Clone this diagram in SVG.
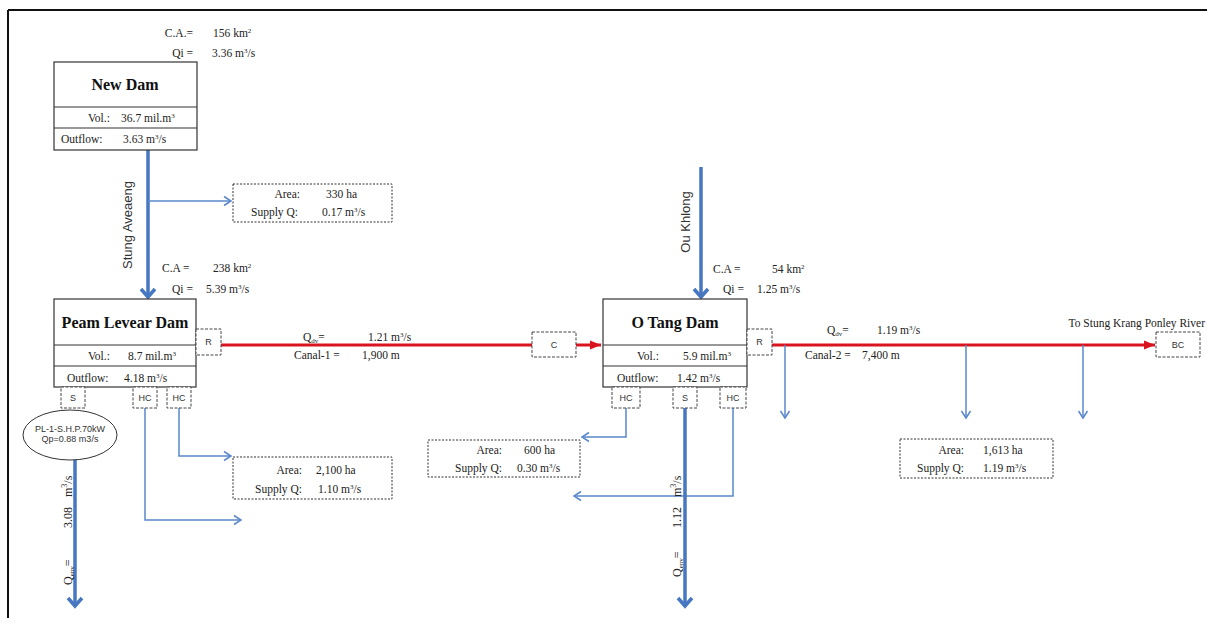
<svg xmlns="http://www.w3.org/2000/svg" width="1207" height="618" viewBox="0 0 1207 618">
<style>
.t{font-family:"Liberation Serif","Times New Roman",serif;font-size:11.5px;fill:#222}
.ttl{font-family:"Liberation Serif","Times New Roman",serif;font-size:16px;font-weight:bold;fill:#111}
.lb{font-family:"Liberation Sans",Arial,sans-serif;font-size:9px;fill:#333}
.rv{font-family:"Liberation Sans",Arial,sans-serif;font-size:13px;fill:#333}
.qe{font-family:"Liberation Serif","Times New Roman",serif;font-size:12px;fill:#222}
.box{fill:#fff;stroke:#333;stroke-width:1.2}
.dot{fill:#fff;stroke:#333;stroke-width:1;stroke-dasharray:2 1.5}
.dash{fill:#fff;stroke:#444;stroke-width:1;stroke-dasharray:3 1.5}
.thick{fill:none;stroke:#4677c0;stroke-width:3.5}
.thin{fill:none;stroke:#5a88cc;stroke-width:1.5}
.red{fill:none;stroke:#d9141e;stroke-width:3}
</style>
<defs>
<marker id="ta" markerUnits="userSpaceOnUse" viewBox="0 0 20 20" markerWidth="20" markerHeight="20" refX="10" refY="10" orient="auto"><path d="M2,3 L10,10 L2,17" fill="none" stroke="#4677c0" stroke-width="3.5"/></marker>
<marker id="na" markerUnits="userSpaceOnUse" viewBox="0 0 12 12" markerWidth="12" markerHeight="12" refX="8" refY="6" orient="auto"><path d="M1,1.5 L8,6 L1,10.5" fill="none" stroke="#5a88cc" stroke-width="1.5"/></marker>
<marker id="ra" markerUnits="userSpaceOnUse" viewBox="0 0 12 10" markerWidth="12" markerHeight="10" refX="11" refY="5" orient="auto"><path d="M0,0.5 L11,5 L0,9.5 z" fill="#d9141e"/></marker>
</defs>
<rect width="1207" height="618" fill="#fff"/>
<g id="frame"><path d="M8,10 H1207 M8,10 V618" fill="none" stroke="#111" stroke-width="2"/></g>

<g id="connectors">
<path class="thick" d="M148,150 V297" marker-end="url(#ta)"/>
<path class="thin" d="M148,201 H231" marker-end="url(#na)"/>
<path class="red" d="M221,345 H532"/>
<path class="red" d="M576,345 H601" marker-end="url(#ra)"/>
<path class="thick" d="M75,460 V606" marker-end="url(#ta)"/>
<path class="thin" d="M145,408 V520 H241" marker-end="url(#na)"/>
<path class="thin" d="M179,408 V456 H231" marker-end="url(#na)"/>
<path class="thick" d="M701,167 V297" marker-end="url(#ta)"/>
<path class="red" d="M772,345 H1155" marker-end="url(#ra)"/>
<path class="thin" d="M785,345 V418" marker-end="url(#na)"/>
<path class="thin" d="M966,345 V418" marker-end="url(#na)"/>
<path class="thin" d="M1083,345 V418" marker-end="url(#na)"/>
<path class="thin" d="M626,408 V437 H582" marker-end="url(#na)"/>
<path class="thin" d="M733,408 V496 H574" marker-end="url(#na)"/>
<path class="thick" d="M685,408 V606" marker-end="url(#ta)"/>
</g>

<g id="new-dam">
<text class="t" x="193" y="37" text-anchor="end">C.A.=</text>
<text class="t" x="213" y="37">156 km<tspan font-size="7" dy="-4">2</tspan></text>
<text class="t" x="193" y="57" text-anchor="end">Qi =</text>
<text class="t" x="212" y="57">3.36 m<tspan font-size="7" dy="-4">3</tspan><tspan dy="4">/s</tspan></text>
<rect class="box" x="54" y="62" width="143" height="88"/>
<path d="M54,107 H197 M54,128 H197" stroke="#333" stroke-width="1.2"/>
<text class="ttl" x="125" y="90" text-anchor="middle">New Dam</text>
<text class="t" x="88" y="122">Vol.:</text>
<text class="t" x="121" y="122">36.7 mil.m<tspan font-size="7" dy="-4">3</tspan></text>
<text class="t" x="61" y="143">Outflow:</text>
<text class="t" x="123" y="143">3.63 m<tspan font-size="7" dy="-4">3</tspan><tspan dy="4">/s</tspan></text>
</g>

<g id="stung-aveaeng"><text class="rv" transform="translate(132,225) rotate(-90)" text-anchor="middle">Stung Aveaeng</text></g>

<g id="supply-330">
<rect class="dot" x="233" y="184" width="159" height="38"/>
<text class="t" x="300" y="198" text-anchor="end">Area:</text>
<text class="t" x="326" y="198">330 ha</text>
<text class="t" x="298" y="216" text-anchor="end">Supply Q:</text>
<text class="t" x="322" y="216">0.17 m<tspan font-size="7" dy="-4">3</tspan><tspan dy="4">/s</tspan></text>
</g>

<g id="peam-levear-dam">
<text class="t" x="162" y="272">C.A =</text>
<text class="t" x="213" y="272">238 km<tspan font-size="7" dy="-4">2</tspan></text>
<text class="t" x="172" y="293">Qi =</text>
<text class="t" x="206" y="293">5.39  m<tspan font-size="7" dy="-4">3</tspan><tspan dy="4">/s</tspan></text>
<rect class="box" x="54" y="299" width="142" height="88"/>
<path d="M54,345 H196 M54,366 H196" stroke="#333" stroke-width="1.2"/>
<text class="ttl" x="125" y="328" text-anchor="middle">Peam Levear Dam</text>
<text class="t" x="88" y="360">Vol.:</text>
<text class="t" x="128" y="360">8.7 mil.m<tspan font-size="7" dy="-4">3</tspan></text>
<text class="t" x="67" y="382">Outflow:</text>
<text class="t" x="124" y="382">4.18 m<tspan font-size="7" dy="-4">3</tspan><tspan dy="4">/s</tspan></text>
<rect class="dash" x="196" y="329" width="25" height="26"/>
<text class="lb" x="208.5" y="345" text-anchor="middle">R</text>
<rect class="dash" x="61" y="387" width="24" height="21"/>
<text class="lb" x="73" y="401" text-anchor="middle">S</text>
<rect class="dash" x="133" y="387" width="24" height="21"/>
<text class="lb" x="145" y="401" text-anchor="middle">HC</text>
<rect class="dash" x="167" y="387" width="24" height="21"/>
<text class="lb" x="179" y="401" text-anchor="middle">HC</text>
</g>

<g id="shp">
<ellipse cx="70" cy="435" rx="47" ry="25" fill="#fff" stroke="#333" stroke-width="1"/>
<text class="lb" x="70" y="432" text-anchor="middle" font-size="7">PL-1-S.H.P.70kW</text>
<text class="lb" x="70" y="442" text-anchor="middle" font-size="7">Qp=0.88 m3/s</text>
</g>

<g id="qenv-1"><text class="qe" transform="translate(72,585) rotate(-90)">Q<tspan font-size="7" dy="2">env</tspan><tspan dy="-2">=</tspan><tspan x="57">3.08</tspan><tspan x="88">m</tspan><tspan font-size="8" dy="-5">3</tspan><tspan dy="5">/s</tspan></text></g>

<g id="supply-2100">
<rect class="dot" x="233" y="457" width="159" height="42"/>
<text class="t" x="302" y="474" text-anchor="end">Area:</text>
<text class="t" x="316" y="474">2,100 ha</text>
<text class="t" x="302" y="493" text-anchor="end">Supply Q:</text>
<text class="t" x="318" y="493">1.10  m<tspan font-size="7" dy="-4">3</tspan><tspan dy="4">/s</tspan></text>
</g>

<g id="canal-1">
<text class="t" x="303" y="341">Q<tspan font-size="7" dy="2">dv</tspan><tspan dy="-2">=</tspan></text>
<text class="t" x="368" y="341">1.21 m<tspan font-size="7" dy="-4">3</tspan><tspan dy="4">/s</tspan></text>
<text class="t" x="294" y="359">Canal-1 =</text>
<text class="t" x="362" y="359">1,900 m</text>
<rect class="dash" x="532" y="332" width="44" height="25"/>
<text class="lb" x="554" y="348" text-anchor="middle">C</text>
</g>

<g id="ou-khlong"><text class="rv" transform="translate(690,222) rotate(-90)" text-anchor="middle">Ou Khlong</text></g>

<g id="o-tang-dam">
<text class="t" x="713" y="273">C.A =</text>
<text class="t" x="772" y="273">54 km<tspan font-size="7" dy="-4">2</tspan></text>
<text class="t" x="723" y="293">Qi =</text>
<text class="t" x="757" y="293">1.25  m<tspan font-size="7" dy="-4">3</tspan><tspan dy="4">/s</tspan></text>
<rect class="box" x="603" y="299" width="144" height="88"/>
<path d="M603,345 H747 M603,366 H747" stroke="#333" stroke-width="1.2"/>
<text class="ttl" x="675" y="328" text-anchor="middle">O Tang Dam</text>
<text class="t" x="637" y="360">Vol.:</text>
<text class="t" x="683" y="360">5.9 mil.m<tspan font-size="7" dy="-4">3</tspan></text>
<text class="t" x="617" y="382">Outflow:</text>
<text class="t" x="677" y="382">1.42 m<tspan font-size="7" dy="-4">3</tspan><tspan dy="4">/s</tspan></text>
<rect class="dash" x="747" y="329" width="25" height="26"/>
<text class="lb" x="759.5" y="345" text-anchor="middle">R</text>
<rect class="dash" x="612" y="387" width="28" height="21"/>
<text class="lb" x="626" y="401" text-anchor="middle">HC</text>
<rect class="dash" x="673" y="387" width="24" height="21"/>
<text class="lb" x="685" y="401" text-anchor="middle">S</text>
<rect class="dash" x="720" y="387" width="26" height="21"/>
<text class="lb" x="733" y="401" text-anchor="middle">HC</text>
</g>

<g id="supply-600">
<rect class="dot" x="428" y="440" width="152" height="37"/>
<text class="t" x="502" y="454" text-anchor="end">Area:</text>
<text class="t" x="524" y="454">600 ha</text>
<text class="t" x="502" y="472" text-anchor="end">Supply Q:</text>
<text class="t" x="517" y="472">0.30  m<tspan font-size="7" dy="-4">3</tspan><tspan dy="4">/s</tspan></text>
</g>

<g id="qenv-2"><text class="qe" transform="translate(681,577) rotate(-90)">Q<tspan font-size="7" dy="2">env</tspan><tspan dy="-2">=</tspan><tspan x="49">1.12</tspan><tspan x="80">m</tspan><tspan font-size="8" dy="-5">3</tspan><tspan dy="5">/s</tspan></text></g>

<g id="canal-2">
<text class="t" x="827" y="334">Q<tspan font-size="7" dy="2">dv</tspan><tspan dy="-2">=</tspan></text>
<text class="t" x="877" y="334">1.19 m<tspan font-size="7" dy="-4">3</tspan><tspan dy="4">/s</tspan></text>
<text class="t" x="805" y="359">Canal-2 =</text>
<text class="t" x="862" y="359">7,400 m</text>
</g>

<g id="bc">
<text class="t" x="1205" y="327" text-anchor="end" font-size="12">To Stung Krang Ponley River</text>
<rect class="dash" x="1156" y="332" width="44" height="25"/>
<text class="lb" x="1178" y="348" text-anchor="middle">BC</text>
</g>

<g id="supply-1613">
<rect class="dot" x="900" y="439" width="153" height="39"/>
<text class="t" x="964" y="454" text-anchor="end">Area:</text>
<text class="t" x="983" y="454">1,613 ha</text>
<text class="t" x="964" y="472" text-anchor="end">Supply Q:</text>
<text class="t" x="983" y="472">1.19  m<tspan font-size="7" dy="-4">3</tspan><tspan dy="4">/s</tspan></text>
</g>
</svg>
